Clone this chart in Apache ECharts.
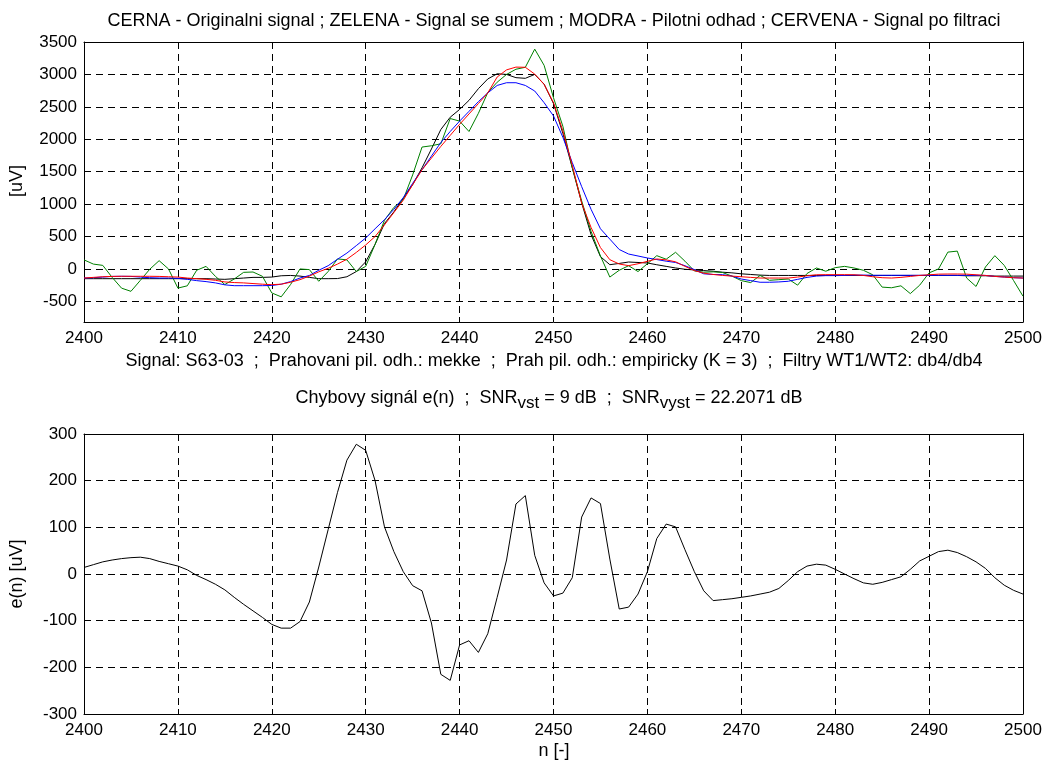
<!DOCTYPE html>
<html>
<head>
<meta charset="utf-8">
<script src="https://cdn.jsdelivr.net/npm/echarts@6/dist/echarts.min.js"></script>
<style>
html,body{margin:0;padding:0;background:#fff;}
#chart{width:1046px;height:762px;}
</style>
</head>
<body>
<div id="chart"></div>
<script>
// sample index n = 2400 ... 2500
const nStart = 2400;
const nEnd = 2500;

// CERNA - original signal
const originalSignal = [
  -150,-150,-150,-150,-150,-150,-150,-150,-150,-150,
  -150,-150,-150,-150,-155,-160,-150,-140,-130,-130,
  -125,-105,-100,-110,-130,-150,-150,-148,-120,-40,
  110,380,700,880,1090,1300,1560,1850,2150,2340,
  2460,2600,2780,2930,3010,3000,2950,2940,3000,2850,
  2550,2090,1560,1020,530,190,66,85,107,100,
  92,65,40,15,-5,-15,-25,-35,-50,-60,
  -75,-85,-95,-100,-100,-100,-100,-100,-100,-100,
  -100,-100,-100,-100,-100,-100,-100,-100,-100,-100,
  -100,-100,-100,-100,-105,-105,-105,-110,-110,-110,
  -110
];
// ZELENA - noisy signal
const noisySignal = [
  140,75,55,-130,-296,-345,-176,-5,128,0,
  -295,-260,-20,40,-115,-240,-155,-52,-47,-113,
  -370,-430,-240,0,-10,-190,-40,155,140,-40,
  40,380,750,950,1070,1450,1880,1900,1930,2320,
  2280,2120,2400,2720,2880,3000,3080,3110,3390,3140,
  2640,2200,1560,1050,580,200,-125,-20,50,-40,
  80,205,150,257,120,-30,-50,-45,-55,-110,
  -180,-210,-100,-175,-165,-155,-250,-70,15,-35,
  20,40,15,-20,-90,-280,-290,-260,-380,-250,
  -60,0,260,275,-140,-270,30,205,55,-180,
  -420
];
// MODRA - pilot estimate
const pilotEstimate = [
  -140,-135,-125,-115,-113,-115,-125,-135,-140,-140,
  -145,-160,-180,-195,-215,-245,-258,-258,-258,-258,
  -255,-235,-195,-140,-100,-20,50,150,245,360,
  477,620,760,920,1100,1320,1530,1740,1950,2120,
  2280,2430,2580,2715,2830,2872,2872,2830,2744,2564,
  2360,2030,1640,1270,920,620,460,300,230,200,
  169,145,120,100,50,-10,-75,-85,-88,-110,
  -155,-180,-205,-205,-200,-190,-160,-130,-110,-103,
  -103,-100,-95,-95,-98,-98,-98,-98,-98,-98,
  -98,-98,-98,-98,-98,-98,-100,-115,-125,-135,
  -140
];
// CERVENA - filtered signal
const filteredSignal = [
  -140,-130,-120,-115,-113,-113,-113,-113,-115,-120,
  -125,-140,-150,-160,-175,-200,-210,-215,-225,-235,
  -242,-235,-205,-165,-110,-45,10,75,150,255,
  370,500,680,870,1060,1300,1530,1710,1890,2060,
  2230,2390,2550,2715,2960,3070,3113,3110,3005,2846,
  2564,2128,1600,1017,640,330,143,76,51,80,
  118,154,140,110,40,-25,-65,-85,-100,-110,
  -120,-130,-140,-140,-140,-140,-125,-105,-90,-88,
  -88,-88,-90,-100,-120,-135,-140,-130,-115,-100,
  -90,-80,-78,-78,-80,-90,-100,-115,-125,-135,
  -140
];
// e(n) - error signal
const errorSignal = [
  14,20,26,30,33,35,36,33,27,22,
  17,9,-3,-12,-22,-34,-50,-65,-79,-93,
  -108,-116,-116,-102,-60,15,95,175,244,278,
  265,200,101,48,5,-25,-36,-105,-215,-228,
  -152,-143,-168,-128,-50,30,150,168,40,-19,
  -47,-41,-8,122,163,151,32,-75,-71,-43,
  5,76,107,101,52,5,-36,-57,-55,-53,
  -50,-47,-43,-39,-31,-14,5,17,21,19,
  10,0,-10,-19,-22,-18,-12,-6,10,28,
  38,48,51,46,37,26,12,-8,-24,-35,
  -43
];

const topYTicks = [-500,0,500,1000,1500,2000,2500,3000,3500];
const topYMin = -818, topYMax = 3500;
const botYMin = -300, botYMax = 300, botYStep = 100;
const xStep = 10;

const title1 = 'CERNA - Originalni signal ; ZELENA - Signal se sumem ; MODRA - Pilotni odhad ; CERVENA - Signal po filtraci';
const xLabel1 = 'Signal: S63-03  ;  Prahovani pil. odh.: mekke  ;  Prah pil. odh.: empiricky (K = 3)  ;  Filtry WT1/WT2: db4/db4';
const yLabel1 = '[uV]';
const yLabel2 = 'e(n) [uV]';
const xLabel2 = 'n [-]';

function pairs(arr){ return arr.map((v,i)=>[nStart+i, v]); }

const FONT = '"Liberation Sans", Arial, Helvetica, sans-serif';
const FS = 17;      // tick labels
const TFS = 18;     // titles / axis names
const labelStyle = {color:'#000', fontSize:FS, fontFamily:FONT, formatter:(v)=>String(v)};
const dash = {color:'#000', width:1, type:[7,5]};

function xAx(grid, pos, labels, split){
  return {
    type:'value', gridIndex:grid, position:pos, min:nStart, max:nEnd, interval:xStep,
    axisLine:{show:true, onZero:false, lineStyle:{color:'#000', width:1}},
    axisTick:{show:true, inside:true, length:5, lineStyle:{color:'#000'}},
    axisLabel:{show:labels, margin:8, ...labelStyle},
    splitLine:{show:split, lineStyle:dash}
  };
}
function yAxTop(pos, labels, split){
  return {
    type:'value', gridIndex:0, position:pos, min:topYMin, max:topYMax,
    axisLine:{show:true, onZero:false, lineStyle:{color:'#000', width:1}},
    axisTick:{show:true, inside:true, length:5, customValues:topYTicks, lineStyle:{color:'#000'}},
    axisLabel:{show:labels, margin:7, customValues:topYTicks, ...labelStyle},
    splitLine:{show:split, lineStyle:dash}
  };
}
function yAxBot(pos, labels, split){
  return {
    type:'value', gridIndex:1, position:pos, min:botYMin, max:botYMax, interval:botYStep,
    axisLine:{show:true, onZero:false, lineStyle:{color:'#000', width:1}},
    axisTick:{show:true, inside:true, length:5, lineStyle:{color:'#000'}},
    axisLabel:{show:labels, margin:7, ...labelStyle},
    splitLine:{show:split, lineStyle:dash}
  };
}
function line(name, data, color, xi, yi, z){
  return {name, type:'line', data:pairs(data), xAxisIndex:xi, yAxisIndex:yi,
    showSymbol:false, symbol:'none', smooth:false, z:z,
    lineStyle:{color, width:1}, itemStyle:{color}, emphasis:{disabled:true}};
}

const chart = echarts.init(document.getElementById('chart'), null, {renderer:'canvas'});
chart.setOption({
  animation:false,
  backgroundColor:'#fff',
  grid:[
    {left:84, top:42, width:939, height:280},
    {left:84, top:434, width:939, height:280}
  ],
  xAxis:[
    xAx(0,'bottom',true,true), xAx(0,'top',false,false),
    xAx(1,'bottom',true,true), xAx(1,'top',false,false)
  ],
  yAxis:[
    yAxTop('left',true,true), yAxTop('right',false,false),
    yAxBot('left',true,true), yAxBot('right',false,false)
  ],
  series:[
    line('CERNA', originalSignal, '#000000', 0, 0, 2),
    line('ZELENA', noisySignal, '#008000', 0, 0, 3),
    line('MODRA', pilotEstimate, '#0000ff', 0, 0, 4),
    line('CERVENA', filteredSignal, '#ff0000', 0, 0, 5),
    line('e(n)', errorSignal, '#000000', 2, 2, 2)
  ],
  graphic:[
    {type:'text', x:554, y:21, style:{text:title1, align:'center', verticalAlign:'middle', font:TFS+'px '+FONT, fill:'#000'}},
    {type:'text', x:554, y:361, style:{text:xLabel1, align:'center', verticalAlign:'middle', font:TFS+'px '+FONT, fill:'#000'}},
    {type:'text', x:549, y:389, style:{
      text:'{a|Chybovy signál e(n)  ;  SNR}{b|vst}{a| = 9 dB  ;  SNR}{b|vyst}{a| = 22.2071 dB}',
      align:'center', verticalAlign:'top', fill:'#000',
      rich:{
        a:{fontSize:TFS, fontFamily:FONT, color:'#000', verticalAlign:'top', lineHeight:20},
        b:{fontSize:TFS-1, fontFamily:FONT, color:'#000', verticalAlign:'top', lineHeight:20, padding:[6,0,0,0]}
      }}},
    {type:'text', x:17, y:181, rotation:Math.PI/2, style:{text:yLabel1, align:'center', verticalAlign:'middle', font:TFS+'px '+FONT, fill:'#000'}},
    {type:'text', x:17, y:574, rotation:Math.PI/2, style:{text:yLabel2, align:'center', verticalAlign:'middle', font:TFS+'px '+FONT, fill:'#000'}},
    {type:'text', x:554, y:751, style:{text:xLabel2, align:'center', verticalAlign:'middle', font:TFS+'px '+FONT, fill:'#000'}}
  ]
});
</script>
</body>
</html>
